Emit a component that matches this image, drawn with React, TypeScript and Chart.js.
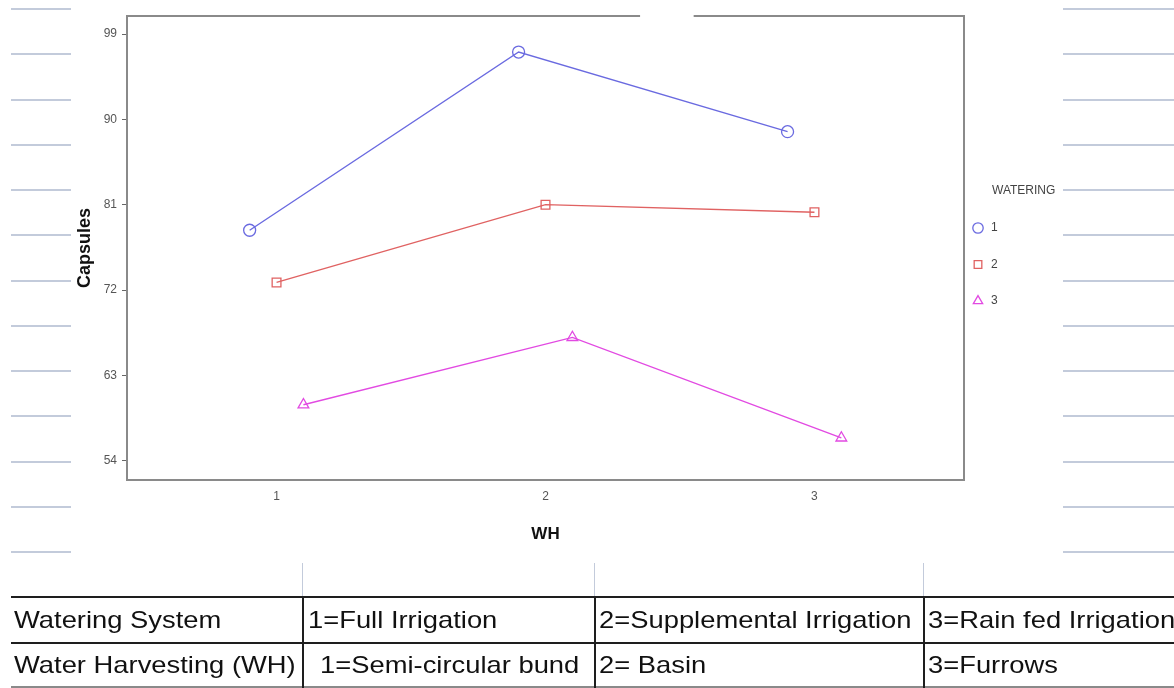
import React, { useEffect, useRef } from 'react';
import { Chart, registerables } from 'chart.js';
import { drawPoint } from 'chart.js/helpers';

Chart.register(...registerables);

// ---- data ----
const WH_LEVELS = [1, 2, 3];
const WATERING_LABELS = ['1', '2', '3'];
const WATERING_OFFSETS = [-0.1, 0, 0.1];
const CAPSULES_W1 = [78.3, 97.1, 88.7];
const CAPSULES_W2 = [72.8, 81.0, 80.2];
const CAPSULES_W3 = [59.9, 67.0, 56.4];
const Y_TICKS = [54, 63, 72, 81, 90, 99];
const X_TICKS = [1, 2, 3];
const TABLE_ROW1 = ['Watering System', '1=Full Irrigation', '2=Supplemental Irrigation', '3=Rain fed Irrigation'];
const TABLE_ROW2 = ['Water Harvesting (WH)', '1=Semi-circular bund', '2= Basin', '3=Furrows'];

const COLORS = ['#6a6ae0', '#e06262', '#e24ae2'];
const STYLES = ['circle', 'rect', 'triangle'];
const RADII = [6, 6.2, 6.2];

const FONT = '"Liberation Sans", Arial, sans-serif';

const framePlugin = {
  id: 'spssFrame',
  beforeDatasetsDraw(chart: any) {
    const { ctx, chartArea } = chart;
    const { left, top, right, bottom } = chartArea;
    const w = right - left;
    const g1 = left + w * 0.613;
    const g2 = left + w * 0.677;
    ctx.save();
    ctx.strokeStyle = '#8a8a8a';
    ctx.lineWidth = 2;
    ctx.beginPath();
    ctx.moveTo(g1, top);
    ctx.lineTo(left, top);
    ctx.lineTo(left, bottom);
    ctx.lineTo(right, bottom);
    ctx.lineTo(right, top);
    ctx.lineTo(g2, top);
    ctx.stroke();
    ctx.restore();
  },
};

const legendPlugin = {
  id: 'spssLegend',
  afterDraw(chart: any) {
    const { ctx, chartArea } = chart;
    const x0 = chartArea.right;
    ctx.save();
    ctx.font = '12px ' + FONT;
    ctx.fillStyle = '#444';
    ctx.textBaseline = 'middle';
    ctx.textAlign = 'left';
    ctx.fillText('WATERING', x0 + 28, 191);
    chart.data.datasets.forEach((ds: any, i: number) => {
      const y = 228 + i * 36.5;
      ctx.strokeStyle = ds.borderColor;
      ctx.fillStyle = 'rgba(255,255,255,1)';
      ctx.lineWidth = 1.3;
      drawPoint(ctx, { pointStyle: ds.pointStyle, radius: ds.pointRadius - 0.8, borderWidth: 1.3, rotation: 0 } as any, x0 + 14, y);
      ctx.fillStyle = '#444';
      ctx.fillText(ds.label, x0 + 27, y);
    });
    ctx.restore();
  },
};

function ChartBox() {
  const ref = useRef<HTMLCanvasElement>(null);
  useEffect(() => {
    const series = [CAPSULES_W1, CAPSULES_W2, CAPSULES_W3];
    const chart = new Chart(ref.current as HTMLCanvasElement, {
      type: 'line',
      data: {
        datasets: series.map((vals, s) => ({
          label: WATERING_LABELS[s],
          data: WH_LEVELS.map((w, i) => ({ x: w + WATERING_OFFSETS[s], y: vals[i] })),
          borderColor: COLORS[s],
          backgroundColor: COLORS[s],
          pointBackgroundColor: 'rgba(255,255,255,0)',
          pointBorderColor: COLORS[s],
          pointStyle: STYLES[s] as any,
          pointRadius: RADII[s],
          pointBorderWidth: 1.3,
          borderWidth: 1.4,
          tension: 0,
          fill: false,
        })),
      },
      options: {
        responsive: false,
        animation: false,
        events: [],
        layout: { padding: { left: 0, top: 16, right: 210, bottom: 0 } },
        plugins: { legend: { display: false }, tooltip: { enabled: false } },
        scales: {
          x: {
            type: 'linear',
            min: 0.444,
            max: 3.556,
            afterBuildTicks: (s: any) => {
              s.ticks = X_TICKS.map((v) => ({ value: v }));
            },
            afterFit: (s: any) => {
              s.height = 208;
            },
            grid: { display: false, drawTicks: false },
            border: { display: false },
            ticks: { padding: 9, color: '#555', font: { family: FONT, size: 12 } },
            title: {
              display: true,
              text: 'WH',
              color: '#111',
              font: { family: FONT, size: 17, weight: 'bold' },
              padding: { top: 0, bottom: 143 },
            },
          },
          y: {
            type: 'linear',
            min: 51.96,
            max: 100.9,
            afterBuildTicks: (s: any) => {
              s.ticks = Y_TICKS.map((v) => ({ value: v }));
            },
            afterFit: (s: any) => {
              s.width = 127;
            },
            grid: { display: true, drawOnChartArea: false, drawTicks: true, tickLength: 5, color: '#666', lineWidth: 1 },
            border: { display: false },
            ticks: { padding: 5, color: '#555', font: { family: FONT, size: 12 } },
            title: {
              display: true,
              text: 'Capsules',
              color: '#111',
              font: { family: FONT, size: 18, weight: 'bold' },
              padding: { top: 74, bottom: 0 },
            },
          },
        },
      },
      plugins: [framePlugin, legendPlugin],
    });
    return () => chart.destroy();
  }, []);
  return <canvas ref={ref} width={1174} height={688} style={{ position: 'absolute', left: 0, top: 0, display: 'block' }} />;
}

const GRID_BLUE = '#c3cbdb';
const ROW_Y = Array.from({ length: 13 }, (_, k) => 9 + k * 45.25);
const COL_X = [302, 594, 923];
const COL_TEXT_X1 = [14, 308, 599, 928];
const COL_TEXT_X2 = [14, 320, 599, 928];

function Txt({ text, x, top }: { text: string; x: number; top: number }) {
  return (
    <span
      style={{
        position: 'absolute',
        left: x,
        top,
        fontFamily: FONT,
        fontSize: 24,
        lineHeight: '24px',
        whiteSpace: 'nowrap',
        color: '#111',
        transform: 'scaleX(1.14)',
        transformOrigin: 'left top',
      }}
    >
      {text}
    </span>
  );
}

export default function App() {
  return (
    <div style={{ position: 'absolute', left: 0, top: 0, width: 1174, height: 688, background: '#fff', overflow: 'hidden' }}>
      {ROW_Y.map((y, k) => (
        <React.Fragment key={k}>
          <div style={{ position: 'absolute', left: 11, top: y - 1, width: 60, height: 2, background: GRID_BLUE }} />
          <div style={{ position: 'absolute', left: 1063, top: y - 1, width: 111, height: 2, background: GRID_BLUE }} />
        </React.Fragment>
      ))}
      {COL_X.map((x, k) => (
        <div key={'v' + k} style={{ position: 'absolute', left: x, top: 563, width: 1, height: 34, background: GRID_BLUE }} />
      ))}
      <ChartBox />
      {/* table */}
      <div style={{ position: 'absolute', left: 11, top: 596, width: 1163, height: 2, background: '#1e1e1e' }} />
      <div style={{ position: 'absolute', left: 11, top: 642, width: 1163, height: 2, background: '#1e1e1e' }} />
      <div style={{ position: 'absolute', left: 11, top: 686, width: 1163, height: 2, background: '#8a8a8a' }} />
      {COL_X.map((x, k) => (
        <div key={'t' + k} style={{ position: 'absolute', left: x, top: 596, width: 2, height: 92, background: '#1e1e1e' }} />
      ))}
      {TABLE_ROW1.map((t, i) => (
        <Txt key={'r1' + i} text={t} x={COL_TEXT_X1[i]} top={608} />
      ))}
      {TABLE_ROW2.map((t, i) => (
        <Txt key={'r2' + i} text={t} x={COL_TEXT_X2[i]} top={652.5} />
      ))}
    </div>
  );
}
